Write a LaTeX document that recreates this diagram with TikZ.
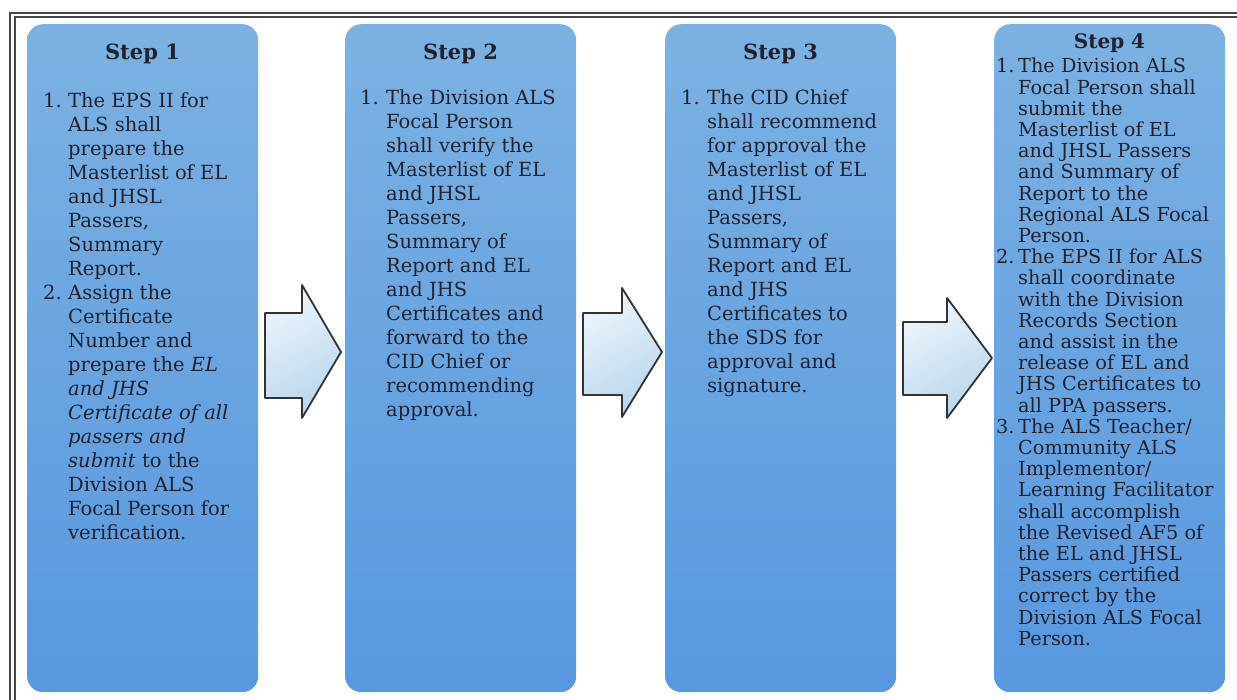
\documentclass[tikz,border=0pt]{standalone}
\usepackage{fontspec}
\setmainfont{DejaVu Serif}
\definecolor{boxtop}{RGB}{124,177,226}
\definecolor{boxbot}{RGB}{88,152,224}
\definecolor{arrtop}{RGB}{236,244,251}
\definecolor{arrbot}{RGB}{184,214,237}
\definecolor{ink}{RGB}{34,34,46}
\definecolor{framec}{RGB}{70,70,70}
\newcommand\nm[2]{\makebox[#1][l]{#2}}
\tikzset{
  stepbox/.style={draw=none, rounded corners=16pt, top color=boxtop, bottom color=boxbot,
    inner sep=0pt, minimum width=231pt, minimum height=668pt, anchor=north west},
  steptitle/.style={text=ink, inner sep=0pt, anchor=base, font=\bfseries\fontsize{21}{24}\selectfont},
  steptext/.style={text=ink, inner sep=0pt, anchor=base west, font=\fontsize{19.5}{24}\selectfont},
  steptextsmall/.style={text=ink, inner sep=0pt, anchor=base west, font=\fontsize{19.3}{21.2}\selectfont},
  blockarrow/.style={draw=black!80, line width=1.8pt, line join=round, top color=arrtop, bottom color=arrbot, shading angle=30},
  framel/.style={draw=framec, line width=1.3pt}
}
\begin{document}
\begin{tikzpicture}[x=1pt,y=-1pt]
\useasboundingbox (0,0) rectangle (1237,700);
\fill[white] (0,0) rectangle (1237,700);
% frame
\draw[framel] (10,700) -- (10,13) -- (1237,13);
\draw[framel] (15,700) -- (15,17) -- (1237,17);
% boxes
\node[stepbox] (b1) at (27,24) {};
\node[stepbox] (b2) at (345,24) {};
\node[stepbox] (b3) at (665,24) {};
\node[stepbox] (b4) at (994,24) {};
% titles
\node[steptitle] (t1) at (142.5,60) {Step 1};
\node[steptitle] (t2) at (460.5,60) {Step 2};
\node[steptitle] (t3) at (780.5,60) {Step 3};
\node[steptitle, font=\bfseries\fontsize{20}{22}\selectfont] (t4) at (1109.5,49) {Step 4};
% step 1
\node[steptext] (x1) at (43,108) {\begin{tabular}[t]{@{}l@{}l@{}}
\nm{25pt}{1.} & The EPS II for\\
 & ALS shall\\
 & prepare the\\
 & Masterlist of EL\\
 & and JHSL\\
 & Passers,\\
 & Summary\\
 & Report.\\
\nm{25pt}{2.} & Assign the\\
 & Certificate\\
 & Number and\\
 & prepare the \textit{EL}\\
 & \textit{and JHS}\\
 & \textit{Certificate of all}\\
 & \textit{passers and}\\
 & \textit{submit} to the\\
 & Division ALS\\
 & Focal Person for\\
 & verification.
\end{tabular}};
% step 2
\node[steptext] (x2) at (360,105) {\begin{tabular}[t]{@{}l@{}l@{}}
\nm{26pt}{1.} & The Division ALS\\
 & Focal Person\\
 & shall verify the\\
 & Masterlist of EL\\
 & and JHSL\\
 & Passers,\\
 & Summary of\\
 & Report and EL\\
 & and JHS\\
 & Certificates and\\
 & forward to the\\
 & CID Chief or\\
 & recommending\\
 & approval.
\end{tabular}};
% step 3
\node[steptext] (x3) at (681,105) {\begin{tabular}[t]{@{}l@{}l@{}}
\nm{26pt}{1.} & The CID Chief\\
 & shall recommend\\
 & for approval the\\
 & Masterlist of EL\\
 & and JHSL\\
 & Passers,\\
 & Summary of\\
 & Report and EL\\
 & and JHS\\
 & Certificates to\\
 & the SDS for\\
 & approval and\\
 & signature.
\end{tabular}};
% step 4
\node[steptextsmall] (x4) at (996,73) {\begin{tabular}[t]{@{}l@{}l@{}}
\nm{22pt}{1.} & The Division ALS\\
 & Focal Person shall\\
 & submit the\\
 & Masterlist of EL\\
 & and JHSL Passers\\
 & and Summary of\\
 & Report to the\\
 & Regional ALS Focal\\
 & Person.\\
\nm{22pt}{2.} & The EPS II for ALS\\
 & shall coordinate\\
 & with the Division\\
 & Records Section\\
 & and assist in the\\
 & release of EL and\\
 & JHS Certificates to\\
 & all PPA passers.\\
\nm{22pt}{3.} & The ALS Teacher/\\
 & Community ALS\\
 & Implementor/\\
 & Learning Facilitator\\
 & shall accomplish\\
 & the Revised AF5 of\\
 & the EL and JHSL\\
 & Passers certified\\
 & correct by the\\
 & Division ALS Focal\\
 & Person.
\end{tabular}};
% block arrows
\draw[blockarrow] (265,313) -- (302,313) -- (302,285) -- (341,352) -- (302,418) -- (302,398) -- (265,398) -- cycle;
\draw[blockarrow] (583,313) -- (622,313) -- (622,288) -- (662,352) -- (622,417) -- (622,395) -- (583,395) -- cycle;
\draw[blockarrow] (903,322) -- (947,322) -- (947,298) -- (992,358) -- (947,418) -- (947,395) -- (903,395) -- cycle;
\end{tikzpicture}
\end{document}
